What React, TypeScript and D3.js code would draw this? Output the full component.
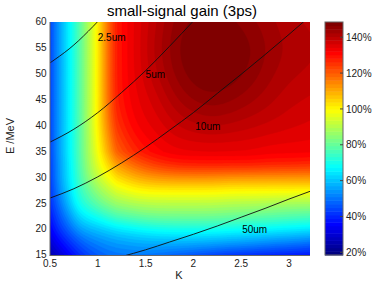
import React, { useMemo } from "react";
import * as d3 from "d3";

// grid: gain in % at (K, E)
const K_GRID = [0.5, 0.6, 0.7, 0.8, 0.9, 1.0, 1.1, 1.2, 1.4, 1.6, 1.8, 2.0, 2.2, 2.4, 2.6, 2.8, 3.0, 3.22];
const E_GRID = [15, 17.5, 20, 22.5, 25, 27.5, 30, 32.5, 35, 40, 45, 50, 55, 60];
const GAIN_ROWS = [
  [25, 30, 35, 40, 44, 47, 49, 50, 51, 50, 48, 46, 44, 42, 41, 40, 39, 38],
  [30, 36, 41, 46, 50, 52, 54, 55, 57, 58, 58, 58, 57, 56, 55, 53, 52, 50],
  [35, 42, 48, 55, 58, 60, 62, 64, 67, 69, 70, 70, 70, 69, 68, 67, 66, 65],
  [38, 46, 54, 63, 67, 70, 74, 77, 80, 82, 82, 82, 82, 81, 80, 79, 78, 77],
  [41, 50, 60, 70, 75, 80, 84, 87, 90, 91, 91, 91, 91, 90, 90, 89, 88, 88],
  [42, 53, 63, 73, 80, 86, 91, 95, 100, 101, 101, 101, 101, 100, 100, 100, 100, 100],
  [43, 55, 65, 75, 85, 92, 98, 104, 110, 113, 114, 114, 114, 113, 113, 113, 113, 113],
  [43, 55, 65, 76, 87, 96, 104, 112, 120, 125, 128, 129, 129, 129, 129, 128, 128, 127],
  [44, 56, 66, 77, 88, 98, 109, 120, 128, 132, 134, 134, 134, 134, 134, 133, 133, 133],
  [44, 56, 66, 77, 89, 101, 115, 126, 133, 135, 138, 140, 141, 140, 139, 138, 137, 136],
  [44, 56, 66, 77, 89, 101, 117, 129, 134, 137, 142, 145, 146, 145, 143, 141, 139, 138],
  [44, 56, 66, 77, 89, 101, 117, 129, 135, 140, 145, 148, 149, 148, 146, 143, 141, 140],
  [44, 56, 66, 77, 89, 101, 117, 129, 135, 141, 146, 149, 150, 149, 147, 144, 142, 141],
  [44, 56, 66, 77, 89, 101, 117, 129, 135, 140, 145, 147, 148, 147, 145, 143, 141, 140],
];

// wavelength contour lines (K, E points)
const LINE_NAMES = ["2.5um", "5um", "10um", "50um"];
const LINE_K = [
  [0.5, 0.6, 0.7, 0.8, 0.9, 1.0, 1.1],
  [0.5, 0.75, 1.0, 1.25, 1.5, 1.75, 2.0, 2.25],
  [0.5, 0.75, 1.0, 1.25, 1.5, 1.75, 2.0, 2.25, 2.5, 2.75, 3.0, 3.25],
  [1.25, 1.5, 1.75, 2.0, 2.25, 2.5, 2.75, 3.0, 3.25],
];
const LINE_E = [
  [52.1, 53.4, 54.8, 56.4, 58.2, 60.1, 62.2],
  [36.8, 39.3, 42.5, 46.4, 50.6, 55.3, 60.2, 65.3],
  [26.0, 27.8, 30.1, 32.8, 35.8, 39.1, 42.5, 46.2, 49.9, 53.7, 57.6, 61.6],
  [14.7, 16.0, 17.5, 19.0, 20.6, 22.3, 24.0, 25.8, 27.5],
];
const LABEL_K = [1.0, 1.5, 2.02, 2.51];
const LABEL_E = [56.3, 49.1, 39.1, 19.2];

const X_TICKS = [0.5, 1, 1.5, 2, 2.5, 3];
const Y_TICKS = [15, 20, 25, 30, 35, 40, 45, 50, 55, 60];
const CB_TICKS = [20, 40, 60, 80, 100, 120, 140];

const W = 382;
const H = 287;
const FONT = "'Liberation Sans', Arial, Helvetica, sans-serif";

const C_MIN = 18.5;
const C_MAX = 148.5;
const N_LEVELS = 64;

// matlab style jet colormap
const jet = (t: number) => {
  const c = (v: number) => Math.max(0, Math.min(1, v));
  return d3
    .rgb(255 * c(1.5 - Math.abs(4 * t - 3)), 255 * c(1.5 - Math.abs(4 * t - 2)), 255 * c(1.5 - Math.abs(4 * t - 1)))
    .formatHex();
};

// fractional index of v in a sorted grid
const fracIndex = (grid: number[], v: number) => {
  const i = Math.max(0, Math.min(grid.length - 2, d3.bisectRight(grid, v) - 1));
  const t = (v - grid[i]) / (grid[i + 1] - grid[i]);
  return (i + Math.max(0, Math.min(1, t))) / (grid.length - 1);
};

export default function App() {
  const x = d3.scaleLinear().domain([0.5, 3.22]).range([50, 310]);
  const y = d3.scaleLinear().domain([15, 60]).range([255, 22]);
  const cb = d3.scaleLinear().domain([C_MIN, C_MAX]).range([255, 22]);
  const step = (C_MAX - C_MIN) / N_LEVELS;

  const bands = useMemo(() => {
    const nx = 131;
    const ny = 118;
    const k0 = K_GRID[0], k1 = K_GRID[K_GRID.length - 1];
    const e0 = E_GRID[0], e1 = E_GRID[E_GRID.length - 1];
    const dk = (k1 - k0) / (nx - 1);
    const de = (e1 - e0) / (ny - 1);
    // smooth (b-spline) surface through the read grid
    const rowFns = GAIN_ROWS.map((r) => d3.interpolateBasis(r));
    const values: number[] = new Array(nx * ny);
    for (let i = 0; i < nx; i++) {
      const ti = fracIndex(K_GRID, k0 + i * dk);
      const colFn = d3.interpolateBasis(rowFns.map((f) => f(ti)));
      for (let j = 0; j < ny; j++) {
        values[j * nx + i] = colFn(fracIndex(E_GRID, e0 + j * de));
      }
    }
    const thresholds = d3.range(N_LEVELS).map((l) => C_MIN + l * step);
    const contours = d3.contours().size([nx, ny]).thresholds(thresholds)(values);
    const proj = d3.geoTransform({
      point: function (px: number, py: number) {
        this.stream.point(x(k0 + (px - 0.5) * dk), y(e0 + (py - 0.5) * de));
      },
    });
    const path = d3.geoPath(proj);
    return contours.map((c, l) => ({ d: path(c as any) || "", fill: jet(l / (N_LEVELS - 1)) }));
  }, []);

  const line = d3
    .line<[number, number]>()
    .x((d) => x(d[0]))
    .y((d) => y(d[1]))
    .curve(d3.curveMonotoneX);

  return (
    <svg width={W} height={H} style={{ position: "absolute", left: 0, top: 0, background: "#fff" }} fontFamily={FONT}>
      <defs>
        <clipPath id="plot-clip">
          <rect x={50} y={22} width={260} height={233} />
        </clipPath>
      </defs>

      <text x={182} y={16} textAnchor="middle" fontSize={15} fill="#000">
        small-signal gain (3ps)
      </text>

      <g clipPath="url(#plot-clip)">
        {bands.map((b, i) => (
          <path key={i} d={b.d} fill={b.fill} stroke={b.fill} strokeWidth={0.3} />
        ))}
        {LINE_K.map((ks, i) => (
          <path
            key={i}
            d={line(ks.map((k, n) => [k, LINE_E[i][n]] as [number, number])) || ""}
            fill="none"
            stroke="#111"
            strokeWidth={0.9}
          />
        ))}
      </g>

      {LINE_NAMES.map((name, i) => (
        <text key={name} x={x(LABEL_K[i])} y={y(LABEL_E[i])} fontSize={10} fill="#000">
          {name}
        </text>
      ))}

      {/* axes */}
      <line x1={50} x2={50} y1={22} y2={255.5} stroke="#666" strokeWidth={1} />
      <line x1={49.5} x2={310} y1={255.5} y2={255.5} stroke="#666" strokeWidth={1} />
      {X_TICKS.map((t) => (
        <text key={t} x={x(t)} y={266.5} textAnchor="middle" fontSize={10} fill="#222">
          {t}
        </text>
      ))}
      {Y_TICKS.map((t) => (
        <text key={t} x={46.5} y={y(t) + 3.3} textAnchor="end" fontSize={10} fill="#222">
          {t}
        </text>
      ))}
      <text x={179} y={279} textAnchor="middle" fontSize={11} fill="#222">
        K
      </text>
      <text transform={`translate(14,136) rotate(-90)`} textAnchor="middle" fontSize={11} fill="#222">
        E /MeV
      </text>

      {/* colorbar */}
      <g>
        {d3.range(N_LEVELS).map((l) => (
          <rect
            key={l}
            x={325}
            width={18}
            y={cb(C_MIN + (l + 1) * step)}
            height={cb(C_MIN + l * step) - cb(C_MIN + (l + 1) * step) + 0.5}
            fill={jet(l / (N_LEVELS - 1))}
          />
        ))}
        <rect x={325} y={22} width={18} height={233} fill="none" stroke="#666" strokeWidth={1} />
        {CB_TICKS.map((t) => (
          <g key={t}>
            <line x1={340} x2={343} y1={cb(t)} y2={cb(t)} stroke="#444" />
            <text x={346} y={cb(t) + 3.6} fontSize={10} fill="#222">
              {t}%
            </text>
          </g>
        ))}
      </g>
    </svg>
  );
}
